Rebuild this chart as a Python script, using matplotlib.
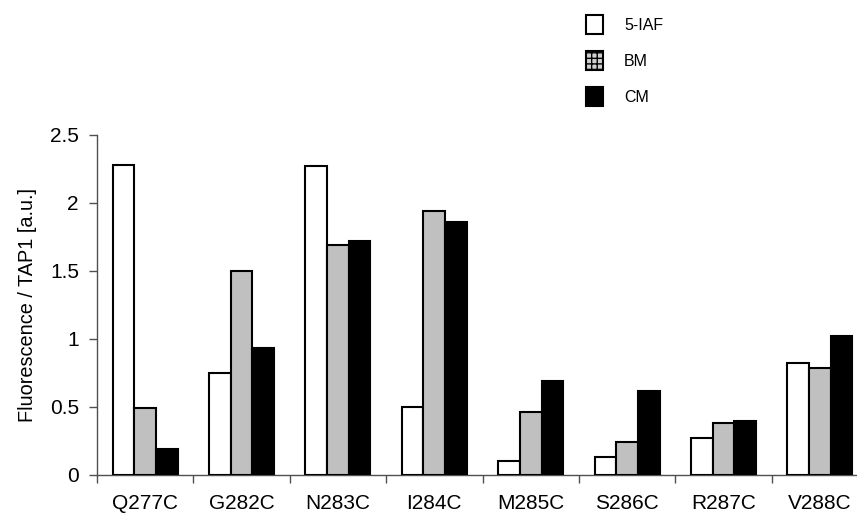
import numpy as np
import matplotlib.pyplot as plt
from matplotlib.patches import Patch

plt.rcParams['font.family'] = ['Liberation Sans', 'DejaVu Sans']

mutants = ["Q277C", "G282C", "N283C", "I284C", "M285C", "S286C", "R287C", "V288C"]
iaf = [2.28, 0.75, 2.27, 0.50, 0.10, 0.13, 0.27, 0.82]
bm = [0.49, 1.50, 1.69, 1.94, 0.46, 0.24, 0.385, 0.785]
cm = [0.19, 0.935, 1.72, 1.86, 0.69, 0.62, 0.40, 1.025]

series = [
    ("5-IAF", iaf, "white"),
    ("BM", bm, "#c0c0c0"),
    ("CM", cm, "black"),
]

fig = plt.figure(figsize=(8.57, 5.15), dpi=100)
ax = fig.add_axes([97 / 857, 40 / 515, 771 / 857, 340 / 515])

x = np.arange(len(mutants))
width = 0.225
for i, (name, vals, color) in enumerate(series):
    ax.bar(x + (i - 1) * width, vals, width, color=color, edgecolor="black",
           linewidth=1.5, zorder=3)

ax.set_xlim(-0.5, len(mutants) - 0.5)
ax.set_ylim(0, 2.5)
ax.set_yticks([0, 0.5, 1, 1.5, 2, 2.5])
ax.set_yticklabels(["0", "0.5", "1", "1.5", "2", "2.5"])
ax.set_xticks(x)
ax.set_xticklabels(mutants)
ax.set_xticks(np.arange(len(mutants) + 1) - 0.5, minor=True)
ax.tick_params(axis="x", which="major", length=0, pad=14, labelsize=15)
ax.tick_params(axis="x", which="minor", length=6, color="#505050", width=1)
ax.tick_params(axis="y", length=6, color="#505050", width=1, pad=7, labelsize=15)

for side in ["top", "right"]:
    ax.spines[side].set_visible(False)
for side in ["left", "bottom"]:
    ax.spines[side].set_color("#505050")
    ax.spines[side].set_linewidth(1)

ax.set_ylabel("Fluorescence / TAP1 [a.u.]", fontsize=14.3, labelpad=9)

handles = [
    Patch(facecolor="white", edgecolor="black", linewidth=1.5),
    Patch(facecolor="#d0d0d0", edgecolor="black", linewidth=1.5, hatch="+++"),
    Patch(facecolor="black", edgecolor="black", linewidth=1.5),
]
fig.legend(handles, [s[0] for s in series], loc="upper left",
           bbox_to_anchor=(572 / 857, 1 - 1 / 515), frameon=False,
           fontsize=11.5, handlelength=1.05, handleheight=1.4,
           labelspacing=1.1, handletextpad=1.3)

fig.savefig("out.png", dpi=100)
